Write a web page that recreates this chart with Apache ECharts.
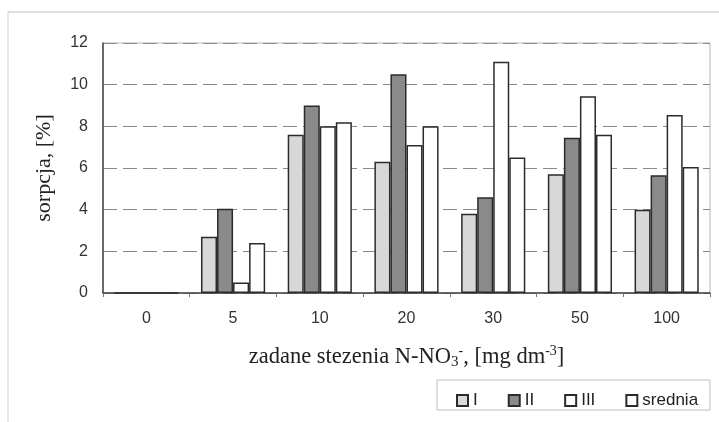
<!DOCTYPE html>
<html>
<head>
<meta charset="utf-8">
<script src="https://cdn.jsdelivr.net/npm/echarts@6/dist/echarts.min.js"></script>
<style>
  html, body { margin: 0; padding: 0; background: #fff; }
  #chart { width: 719px; height: 422px; }
</style>
</head>
<body>
<div id="chart"></div>
<script>
// Nitrate concentrations (mg dm-3) and sorption percentages per replicate
const categories = ['0', '5', '10', '20', '30', '50', '100'];
const seriesI = [0, 2.7, 7.6, 6.3, 3.8, 5.7, 4.0];
const seriesII = [0, 4.05, 9.0, 10.5, 4.6, 7.45, 5.65];
const seriesIII = [0, 0.5, 8.0, 7.1, 11.1, 9.45, 8.55];
const seriesMean = [0, 2.4, 8.2, 8.0, 6.5, 7.6, 6.05];
const seriesNames = ['I', 'II', 'III', 'srednia'];
const yTicks = { min: 0, max: 12, interval: 2 };

const edge = '#2b2b2b';
const fills = ['#d8d8d8', '#8a8a8a', '#ffffff', '#ffffff'];
const values = [seriesI, seriesII, seriesIII, seriesMean];

const chart = echarts.init(document.getElementById('chart'), null, { renderer: 'canvas' });

chart.setOption({
  backgroundColor: '#ffffff',
  animation: false,
  graphic: [
    { type: 'line', shape: { x1: 8, y1: 12, x2: 719, y2: 12 }, style: { stroke: '#bdbdbd', lineWidth: 1 } },
    { type: 'line', shape: { x1: 8, y1: 12, x2: 8, y2: 422 }, style: { stroke: '#d0d0d0', lineWidth: 1 } },
    { type: 'rect', shape: { x: 437, y: 380, width: 273, height: 30 }, style: { fill: 'none', stroke: '#bdbdbd', lineWidth: 1 } }
  ],
  grid: { left: 103, right: 9, top: 43, bottom: 129, show: true, borderColor: '#b5b5b5', borderWidth: 1 },
  legend: {
    data: seriesNames,
    left: 451, top: 387,
    itemWidth: 11, itemHeight: 11, itemGap: 30,
    icon: 'rect',
    textStyle: { fontFamily: 'Liberation Sans', fontSize: 17, color: '#222' }
  },
  xAxis: {
    type: 'category',
    data: categories,
    boundaryGap: true,
    axisLine: { lineStyle: { color: '#444', width: 1.5 } },
    axisTick: { show: true, length: 4, lineStyle: { color: '#777' } },
    axisLabel: { fontFamily: 'Liberation Sans', fontSize: 16, color: '#333', margin: 18 },
    name: '{t|zadane stezenia N-NO}{sub|3}{sup|-}{t|, [mg dm}{sup|-3}{t|]}',
    nameLocation: 'middle',
    nameGap: 51,
    nameTextStyle: {
      rich: {
        t: { fontFamily: 'Liberation Serif', fontSize: 22.5, color: '#222', lineHeight: 27 },
        sub: { fontFamily: 'Liberation Serif', fontSize: 15, color: '#222', lineHeight: 27, padding: [9, 0, 0, 0] },
        sup: { fontFamily: 'Liberation Serif', fontSize: 14, color: '#222', lineHeight: 27, padding: [0, 0, 12, 0] }
      }
    }
  },
  yAxis: {
    type: 'value',
    min: yTicks.min, max: yTicks.max, interval: yTicks.interval,
    axisLine: { show: true, lineStyle: { color: '#444', width: 1.5 } },
    axisTick: { show: false },
    axisLabel: { fontFamily: 'Liberation Sans', fontSize: 16, color: '#333', margin: 15 },
    splitLine: { lineStyle: { color: '#8a8a8a', type: [14, 6], width: 1 } },
    name: 'sorpcja, [%]',
    nameLocation: 'middle',
    nameGap: 48,
    nameRotate: 90,
    nameTextStyle: { fontFamily: 'Liberation Serif', fontSize: 22, color: '#222' }
  },
  series: values.map((v, i) => ({
    name: seriesNames[i],
    type: 'bar',
    data: v,
    barGap: '0%',
    barCategoryGap: '26%',
    itemStyle: { color: fills[i], borderColor: edge, borderWidth: 1.5 }
  }))
});
</script>
</body>
</html>
